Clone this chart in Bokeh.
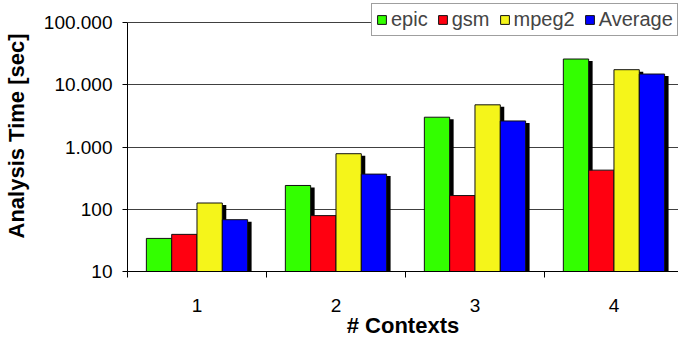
from bokeh.plotting import figure
from bokeh.models import Range1d, FixedTicker, CustomJSTickFormatter, Legend, LegendItem
from bokeh.embed import file_html
from bokeh.resources import INLINE

# ---- data ----
contexts = [1, 2, 3, 4]
context_labels = ["1", "2", "3", "4"]
series_names = ["epic", "gsm", "mpeg2", "Average"]
epic = [34, 241, 3010, 25900]
gsm = [39.5, 79, 166, 425]
mpeg2 = [126, 780, 4760, 17450]
average = [68, 367, 2620, 14870]
y_ticks = [10, 100, 1000, 10000, 100000]
colors = ["#33ff00", "#ff0010", "#f5f51a", "#0000ff"]

# ---- layout ----
W, H = 678, 340
LEFT, BOTTOM = 123, 69
AXIS_TOP_PX = 22           # where the 100.000 line sits, from the top
PX_PER_CAT = 140.0
FONT = "Liberation Sans"

frame_h = H - BOTTOM
px_per_decade = (frame_h - AXIS_TOP_PX) / 4.0
y_end = 10 ** (5 + AXIS_TOP_PX / px_per_decade)

p = figure(width=W, height=H, output_backend="svg", toolbar_location=None,
           y_axis_type="log",
           x_range=Range1d(0.5, 0.5 + (W - LEFT) / PX_PER_CAT),
           y_range=Range1d(10, y_end),
           min_border_left=LEFT, min_border_right=0,
           min_border_top=0, min_border_bottom=BOTTOM)
p.outline_line_color = None
p.background_fill_color = "white"
p.border_fill_color = "white"

bw = 25.5 / PX_PER_CAT
shadow_dx = 4 / PX_PER_CAT
shadow_fac = 10 ** (-2 / px_per_decade)
all_series = [epic, gsm, mpeg2, average]
offsets = [-1.5, -0.5, 0.5, 1.5]

# shadows first
for vals, off in zip(all_series, offsets):
    p.vbar(x=[c + off * bw + shadow_dx for c in contexts],
           top=[v * shadow_fac for v in vals], bottom=5, width=bw,
           fill_color="black", line_color=None)

renderers = []
for vals, off, col in zip(all_series, offsets, colors):
    r = p.vbar(x=[c + off * bw for c in contexts], top=vals, bottom=10, width=bw,
               fill_color=col, line_color="#111111", line_width=1)
    renderers.append(r)

# ---- axes ----
p.xgrid.grid_line_color = None
p.yaxis.ticker = FixedTicker(ticks=y_ticks)
p.ygrid.ticker = FixedTicker(ticks=y_ticks)
p.ygrid.grid_line_color = "#404040"
p.ygrid.grid_line_width = 1
p.yaxis.bounds = (y_ticks[0], y_ticks[-1])
p.yaxis.formatter = CustomJSTickFormatter(
    code=r"return String(Math.round(tick)).replace(/\B(?=(\d{3})+(?!\d))/g, '.');")
p.yaxis.major_tick_out = 5
p.yaxis.major_tick_in = 0
p.yaxis.minor_tick_line_color = None
p.yaxis.major_label_standoff = 10
p.yaxis.axis_label = "Analysis Time [sec]"
p.yaxis.axis_label_standoff = 12

p.xaxis.ticker = FixedTicker(ticks=contexts,
                             minor_ticks=[c - 0.5 for c in contexts] + [contexts[-1] + 0.5])
p.xaxis.major_label_overrides = {c: l for c, l in zip(contexts, context_labels)}
p.xaxis.major_tick_line_color = None
p.xaxis.major_tick_out = 0
p.xaxis.major_tick_in = 0
p.xaxis.minor_tick_out = 6
p.xaxis.minor_tick_in = 0
p.xaxis.minor_tick_line_color = "black"
p.xaxis.major_label_standoff = 21
p.xaxis.axis_label = "# Contexts"
p.xaxis.axis_label_standoff = -2

for ax in (p.xaxis, p.yaxis):
    ax.axis_line_color = "black"
    ax.major_label_text_font = FONT
    ax.major_label_text_font_size = "19px"
    ax.major_label_text_color = "black"
    ax.axis_label_text_font = FONT
    ax.axis_label_text_font_size = "22px"
    ax.axis_label_text_font_style = "bold"
    ax.axis_label_text_color = "black"

# ---- legend ----
LEG_H = 31
legend = Legend(items=[LegendItem(label=n, renderers=[r]) for n, r in zip(series_names, renderers)],
                orientation="horizontal",
                location=(367 - LEFT, frame_h - 5 - LEG_H),
                label_text_font=FONT, label_text_font_size="20px",
                glyph_width=11, glyph_height=11, label_standoff=4, spacing=9,
                padding=4, margin=0, border_line_color="#404040", border_line_width=1,
                background_fill_color="white", background_fill_alpha=1.0)
p.add_layout(legend, "center")

open("out.html", "w").write(file_html(p, INLINE))
